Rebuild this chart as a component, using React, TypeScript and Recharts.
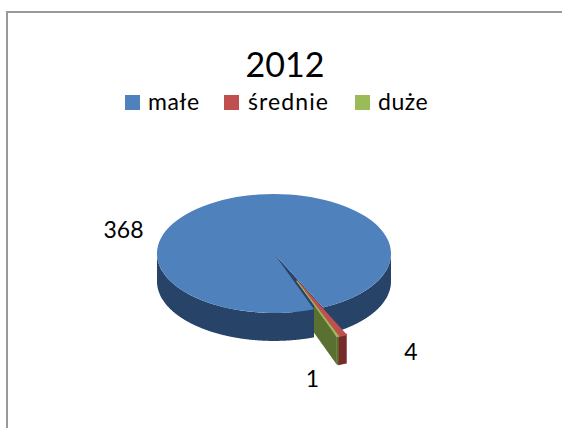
import React from "react";
import { PieChart, Pie, Legend } from "recharts";

const title = "2012";
const categories = ["małe", "średnie", "duże"];
const values = [368, 4, 1];
const topColors = ["#4f81bd", "#c0504d", "#9bbb59"];
const wallColors = ["#274367", "#772c2a", "#5a7030"];

const CX = 274;
const CY = 253.5;
const R = 117;
const TILT = 0.508;
const DEPTH = 28;
const START = -70;
const EXPLODE = 0.5;
const EXPLODE_ANGLE = -67;
const rad = (d: number) => (d * Math.PI) / 180;

const tableData = categories.map((name, i) => ({ name, value: values[i], fill: topColors[i] }));

type P = { x: number; y: number };

function geom(props: any) {
  const cx: number = props.cx;
  const cy: number = props.cy;
  const r: number = props.outerRadius;
  const i = categories.indexOf(props.name ?? props.payload?.name);
  const off = i === 0 ? 0 : EXPLODE * r;
  const apex: P = {
    x: cx + off * Math.cos(rad(EXPLODE_ANGLE)),
    y: cy - off * TILT * Math.sin(rad(EXPLODE_ANGLE)),
  };
  const at = (deg: number): P => ({
    x: apex.x + r * Math.cos(rad(deg)),
    y: apex.y - r * TILT * Math.sin(rad(deg)),
  });
  return { i, r, apex, at, start: props.startAngle as number, end: props.endAngle as number };
}

const poly = (pts: P[]) => "M" + pts.map((p) => `${p.x.toFixed(2)},${p.y.toFixed(2)}`).join("L") + "Z";
const down = (p: P): P => ({ x: p.x, y: p.y + DEPTH });

function TopShape(props: any) {
  const { i, r, apex, at, start, end } = geom(props);
  const a = at(start);
  const b = at(end);
  const large = Math.abs(start - end) > 180 ? 1 : 0;
  const d = `M${apex.x},${apex.y}L${a.x},${a.y}A${r},${r * TILT} 0 ${large} 1 ${b.x},${b.y}Z`;
  return <path d={d} fill={topColors[i]} stroke={i === 0 ? "none" : topColors[i]} strokeWidth={i === 1 ? 1.5 : 0.8} />;
}

function WallShape(props: any) {
  const { i, apex, at, start, end } = geom(props);
  const paths: string[] = [];
  // outer rim: only the part on the near side of the ellipse
  let run: P[] = [];
  const flush = () => {
    if (run.length > 1) paths.push(poly([...run, ...run.slice().reverse().map(down)]));
    run = [];
  };
  const step = 0.25;
  for (let a = start; a >= end - 1e-6; a -= step) {
    if (Math.sin(rad(a)) <= 0) run.push(at(a));
    else flush();
  }
  run.push(at(end));
  flush();
  if (i === 0) {
    [start, end].forEach((a) => {
      const p = at(a);
      paths.push(poly([apex, p, down(p), down(apex)]));
    });
  }
  if (i === 2) {
    const outer = at(end);
    const edgeX = props.cx + props.outerRadius * Math.cos(rad(START));
    const t = (edgeX - apex.x) / (outer.x - apex.x);
    const inner: P = { x: edgeX, y: apex.y + t * (outer.y - apex.y) };
    paths.push(poly([inner, outer, down(outer), down(inner)]));
  }
  return (
    <g>
      {paths.map((d, k) => (
        <path key={k} d={d} fill={wallColors[i]} stroke={i === 1 ? wallColors[i] : "none"} strokeWidth={1.5} />
      ))}
    </g>
  );
}

const labelPos: P[] = [
  { x: 123.5, y: 238 },
  { x: 411, y: 360 },
  { x: 312.5, y: 387 },
];

function renderLabel(props: any) {
  const i = categories.indexOf(props.name ?? props.payload?.name);
  return (
    <text x={labelPos[i].x} y={labelPos[i].y} textAnchor="middle" fontFamily="Lato" fontSize={23} fill="#000">
      {props.value}
    </text>
  );
}

const legendLeft = [125, 224, 355];
const legendTextLeft = [148, 248, 378];
const legendSpacing = [0.5, 1.1, 0.5];

function LegendContent() {
  return (
    <div style={{ position: "relative", width: 562, height: 40 }}>
      {categories.map((name, i) => (
        <React.Fragment key={name}>
          <div
            style={{
              position: "absolute",
              left: legendLeft[i],
              top: 0,
              width: 15,
              height: 15,
              background: topColors[i],
            }}
          />
          <div
            style={{
              position: "absolute",
              left: legendTextLeft[i],
              top: -10,
              lineHeight: "32px",
              fontFamily: "Lato",
              fontSize: 23,
              letterSpacing: legendSpacing[i],
              color: "#000",
              whiteSpace: "nowrap",
            }}
          >
            {name}
          </div>
        </React.Fragment>
      ))}
    </div>
  );
}

export default function App() {
  return (
    <div style={{ position: "absolute", left: 0, top: 0, width: 562, height: 428, background: "#fff", overflow: "hidden" }}>
      <div
        style={{
          position: "absolute",
          left: 6,
          top: 11,
          width: 600,
          height: 500,
          borderLeft: "2px solid #999",
          borderTop: "2px solid #999",
        }}
      />
      <div style={{ position: "absolute", left: 0, top: 0 }}>
        <PieChart width={562} height={428} margin={{ top: 0, right: 0, bottom: 0, left: 0 }}>
          <text x={285} y={77} textAnchor="middle" fontFamily="Lato" fontSize={34} fill="#000">
            {title}
          </text>
          <Legend
            layout="horizontal"
            verticalAlign="middle"
            align="center"
            content={<LegendContent />}
            wrapperStyle={{ position: "absolute", left: 0, top: 95, width: 562, height: 40 }}
          />
          <Pie
            data={tableData}
            dataKey="value"
            nameKey="name"
            cx={CX}
            cy={CY}
            outerRadius={R}
            startAngle={START}
            endAngle={START - 360}
            isAnimationActive={false}
            legendType="none"
            stroke="none"
            shape={WallShape}
          />
          <Pie
            data={tableData}
            dataKey="value"
            nameKey="name"
            cx={CX}
            cy={CY}
            outerRadius={R}
            startAngle={START}
            endAngle={START - 360}
            isAnimationActive={false}
            legendType="square"
            stroke="none"
            shape={TopShape}
            label={renderLabel}
            labelLine={false}
          />
        </PieChart>
      </div>
    </div>
  );
}
